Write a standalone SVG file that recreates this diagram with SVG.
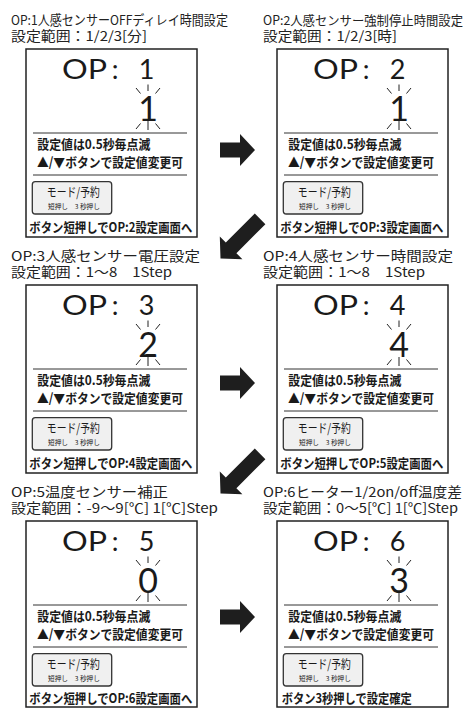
<svg xmlns="http://www.w3.org/2000/svg" width="475" height="711" viewBox="0 0 475 711">
<style>
.title{font-family:"Noto Sans CJK JP",sans-serif;font-size:13.2px;fill:#222}
.big{font-family:Lato,"DejaVu Sans",sans-serif;font-size:27px;fill:#1a1a1a}
.val{font-family:Lato,"DejaVu Sans",sans-serif;font-size:34px;fill:#1a1a1a}
.body{font-family:"Noto Sans CJK JP",sans-serif;font-size:13px;font-weight:bold;fill:#1a1a1a}
.btnlbl{font-family:"Noto Sans CJK JP",sans-serif;font-size:12.5px;fill:#1a1a1a}
.small{font-family:"Noto Sans CJK JP",sans-serif;font-size:6.5px;fill:#1a1a1a}
.frame{fill:#fff;stroke:#222;stroke-width:1.5}
.sep{stroke:#333;stroke-width:1}
.spark{stroke:#222;stroke-width:1;fill:none}
.btn{fill:#f0f0f0;stroke:#333;stroke-width:1.3}
.arrow{fill:#1e1e1e}
</style>
<rect width="475" height="711" fill="#fff"/>

<g id="op1" transform="translate(26,49)">
<text class="title"><tspan x="-15" y="-23.6" textLength="217" lengthAdjust="spacingAndGlyphs">OP:1人感センサーOFFディレイ時間設定</tspan><tspan x="-15" y="-7.6" textLength="136" lengthAdjust="spacingAndGlyphs">設定範囲：1/2/3[分]</tspan></text>
<rect class="frame" x="0" y="0" width="171" height="188"/>
<text class="big" x="36" y="30" textLength="45" lengthAdjust="spacingAndGlyphs">OP</text>
<text class="big" x="89" y="30" text-anchor="middle">:</text>
<text class="big" x="120.5" y="30" text-anchor="middle">1</text>
<text class="val" x="122" y="71.5" text-anchor="middle">1</text>
<path class="spark" d="M110,39 L114.5,44.5 M122,35.5 V42 M134,39 L129.5,44.5 M110,80 L114.5,74.5 M122,72 V81 M134,80 L129.5,74.5"/>
<line class="sep" x1="7" y1="84" x2="161" y2="84"/>
<text class="body" x="11.3" y="100" textLength="113" lengthAdjust="spacingAndGlyphs">設定値は0.5秒毎点滅</text>
<text class="body" x="11" y="118" textLength="146" lengthAdjust="spacingAndGlyphs">▲/▼ボタンで設定値変更可</text>
<line class="sep" x1="7" y1="126" x2="161" y2="126"/>
<rect class="btn" x="6.3" y="132.7" width="79.4" height="32.3" rx="3"/>
<text class="btnlbl" x="47.3" y="148" text-anchor="middle" textLength="53" lengthAdjust="spacingAndGlyphs">モード/予約</text>
<text class="small" x="48" y="159.5" text-anchor="middle" textLength="52" lengthAdjust="spacingAndGlyphs">短押し　3 秒押し</text>
<text class="body" x="3.3" y="182.5" textLength="163" lengthAdjust="spacingAndGlyphs">ボタン短押しでOP:2設定画面へ</text>
</g>

<g id="op2" transform="translate(277,49)">
<text class="title"><tspan x="-14" y="-23.6" textLength="200" lengthAdjust="spacingAndGlyphs" style="font-size:12.7px">OP:2人感センサー強制停止時間設定</tspan><tspan x="-14" y="-7.6" textLength="134" lengthAdjust="spacingAndGlyphs">設定範囲：1/2/3[時]</tspan></text>
<rect class="frame" x="0" y="0" width="171" height="188"/>
<text class="big" x="36" y="30" textLength="45" lengthAdjust="spacingAndGlyphs">OP</text>
<text class="big" x="89" y="30" text-anchor="middle">:</text>
<text class="big" x="120.5" y="30" text-anchor="middle">2</text>
<text class="val" x="122" y="71.5" text-anchor="middle">1</text>
<path class="spark" d="M110,39 L114.5,44.5 M122,35.5 V42 M134,39 L129.5,44.5 M110,80 L114.5,74.5 M122,72 V81 M134,80 L129.5,74.5"/>
<line class="sep" x1="7" y1="84" x2="161" y2="84"/>
<text class="body" x="11.3" y="100" textLength="113" lengthAdjust="spacingAndGlyphs">設定値は0.5秒毎点滅</text>
<text class="body" x="11" y="118" textLength="146" lengthAdjust="spacingAndGlyphs">▲/▼ボタンで設定値変更可</text>
<line class="sep" x1="7" y1="126" x2="161" y2="126"/>
<rect class="btn" x="6.3" y="132.7" width="79.4" height="32.3" rx="3"/>
<text class="btnlbl" x="47.3" y="148" text-anchor="middle" textLength="53" lengthAdjust="spacingAndGlyphs">モード/予約</text>
<text class="small" x="48" y="159.5" text-anchor="middle" textLength="52" lengthAdjust="spacingAndGlyphs">短押し　3 秒押し</text>
<text class="body" x="3.3" y="182.5" textLength="163" lengthAdjust="spacingAndGlyphs">ボタン短押しでOP:3設定画面へ</text>
</g>

<g id="op3" transform="translate(26,285)">
<text class="title"><tspan x="-15" y="-23.6" textLength="189" lengthAdjust="spacingAndGlyphs">OP:3人感センサー電圧設定</tspan><tspan x="-15" y="-7.6" textLength="161" lengthAdjust="spacingAndGlyphs">設定範囲：1〜8　1Step</tspan></text>
<rect class="frame" x="0" y="0" width="171" height="188"/>
<text class="big" x="36" y="30" textLength="45" lengthAdjust="spacingAndGlyphs">OP</text>
<text class="big" x="89" y="30" text-anchor="middle">:</text>
<text class="big" x="120.5" y="30" text-anchor="middle">3</text>
<text class="val" x="122" y="71.5" text-anchor="middle">2</text>
<path class="spark" d="M110,39 L114.5,44.5 M122,35.5 V42 M134,39 L129.5,44.5 M110,80 L114.5,74.5 M122,72 V81 M134,80 L129.5,74.5"/>
<line class="sep" x1="7" y1="84" x2="161" y2="84"/>
<text class="body" x="11.3" y="100" textLength="113" lengthAdjust="spacingAndGlyphs">設定値は0.5秒毎点滅</text>
<text class="body" x="11" y="118" textLength="146" lengthAdjust="spacingAndGlyphs">▲/▼ボタンで設定値変更可</text>
<line class="sep" x1="7" y1="126" x2="161" y2="126"/>
<rect class="btn" x="6.3" y="132.7" width="79.4" height="32.3" rx="3"/>
<text class="btnlbl" x="47.3" y="148" text-anchor="middle" textLength="53" lengthAdjust="spacingAndGlyphs">モード/予約</text>
<text class="small" x="48" y="159.5" text-anchor="middle" textLength="52" lengthAdjust="spacingAndGlyphs">短押し　3 秒押し</text>
<text class="body" x="3.3" y="182.5" textLength="163" lengthAdjust="spacingAndGlyphs">ボタン短押しでOP:4設定画面へ</text>
</g>

<g id="op4" transform="translate(277,285)">
<text class="title"><tspan x="-14" y="-23.6" textLength="190" lengthAdjust="spacingAndGlyphs">OP:4人感センサー時間設定</tspan><tspan x="-14" y="-7.6" textLength="162" lengthAdjust="spacingAndGlyphs">設定範囲：1〜8　1Step</tspan></text>
<rect class="frame" x="0" y="0" width="171" height="188"/>
<text class="big" x="36" y="30" textLength="45" lengthAdjust="spacingAndGlyphs">OP</text>
<text class="big" x="89" y="30" text-anchor="middle">:</text>
<text class="big" x="120.5" y="30" text-anchor="middle">4</text>
<text class="val" x="122" y="71.5" text-anchor="middle">4</text>
<path class="spark" d="M110,39 L114.5,44.5 M122,35.5 V42 M134,39 L129.5,44.5 M110,80 L114.5,74.5 M122,72 V81 M134,80 L129.5,74.5"/>
<line class="sep" x1="7" y1="84" x2="161" y2="84"/>
<text class="body" x="11.3" y="100" textLength="113" lengthAdjust="spacingAndGlyphs">設定値は0.5秒毎点滅</text>
<text class="body" x="11" y="118" textLength="146" lengthAdjust="spacingAndGlyphs">▲/▼ボタンで設定値変更可</text>
<line class="sep" x1="7" y1="126" x2="161" y2="126"/>
<rect class="btn" x="6.3" y="132.7" width="79.4" height="32.3" rx="3"/>
<text class="btnlbl" x="47.3" y="148" text-anchor="middle" textLength="53" lengthAdjust="spacingAndGlyphs">モード/予約</text>
<text class="small" x="48" y="159.5" text-anchor="middle" textLength="52" lengthAdjust="spacingAndGlyphs">短押し　3 秒押し</text>
<text class="body" x="3.3" y="182.5" textLength="163" lengthAdjust="spacingAndGlyphs">ボタン短押しでOP:5設定画面へ</text>
</g>

<g id="op5" transform="translate(26,521)">
<text class="title"><tspan x="-15" y="-23.6" textLength="157" lengthAdjust="spacingAndGlyphs">OP:5温度センサー補正</tspan><tspan x="-15" y="-7.6" textLength="207" lengthAdjust="spacingAndGlyphs">設定範囲：-9〜9[℃] 1[℃]Step</tspan></text>
<rect class="frame" x="0" y="0" width="171" height="186"/>
<text class="big" x="36" y="30" textLength="45" lengthAdjust="spacingAndGlyphs">OP</text>
<text class="big" x="89" y="30" text-anchor="middle">:</text>
<text class="big" x="120.5" y="30" text-anchor="middle">5</text>
<text class="val" x="122" y="71.5" text-anchor="middle">0</text>
<path class="spark" d="M110,39 L114.5,44.5 M122,35.5 V42 M134,39 L129.5,44.5 M110,80 L114.5,74.5 M122,72 V81 M134,80 L129.5,74.5"/>
<line class="sep" x1="7" y1="84" x2="161" y2="84"/>
<text class="body" x="11.3" y="100" textLength="113" lengthAdjust="spacingAndGlyphs">設定値は0.5秒毎点滅</text>
<text class="body" x="11" y="118" textLength="146" lengthAdjust="spacingAndGlyphs">▲/▼ボタンで設定値変更可</text>
<line class="sep" x1="7" y1="126" x2="161" y2="126"/>
<rect class="btn" x="6.3" y="132.7" width="79.4" height="32.3" rx="3"/>
<text class="btnlbl" x="47.3" y="148" text-anchor="middle" textLength="53" lengthAdjust="spacingAndGlyphs">モード/予約</text>
<text class="small" x="48" y="159.5" text-anchor="middle" textLength="52" lengthAdjust="spacingAndGlyphs">短押し　3 秒押し</text>
<text class="body" x="3.3" y="181.5" textLength="163" lengthAdjust="spacingAndGlyphs">ボタン短押しでOP:6設定画面へ</text>
</g>

<g id="op6" transform="translate(277,521)">
<text class="title"><tspan x="-14" y="-23.6" textLength="199" lengthAdjust="spacingAndGlyphs">OP:6ヒーター1/2on/off温度差</tspan><tspan x="-14" y="-7.6" textLength="195" lengthAdjust="spacingAndGlyphs">設定範囲：0〜5[℃] 1[℃]Step</tspan></text>
<rect class="frame" x="0" y="0" width="171" height="186"/>
<text class="big" x="36" y="30" textLength="45" lengthAdjust="spacingAndGlyphs">OP</text>
<text class="big" x="89" y="30" text-anchor="middle">:</text>
<text class="big" x="120.5" y="30" text-anchor="middle">6</text>
<text class="val" x="122" y="71.5" text-anchor="middle">3</text>
<path class="spark" d="M110,39 L114.5,44.5 M122,35.5 V42 M134,39 L129.5,44.5 M110,80 L114.5,74.5 M122,72 V81 M134,80 L129.5,74.5"/>
<line class="sep" x1="7" y1="84" x2="161" y2="84"/>
<text class="body" x="11.3" y="100" textLength="113" lengthAdjust="spacingAndGlyphs">設定値は0.5秒毎点滅</text>
<text class="body" x="11" y="118" textLength="146" lengthAdjust="spacingAndGlyphs">▲/▼ボタンで設定値変更可</text>
<line class="sep" x1="7" y1="126" x2="161" y2="126"/>
<rect class="btn" x="6.3" y="132.7" width="79.4" height="32.3" rx="3"/>
<text class="btnlbl" x="47.3" y="148" text-anchor="middle" textLength="53" lengthAdjust="spacingAndGlyphs">モード/予約</text>
<text class="small" x="48" y="159.5" text-anchor="middle" textLength="52" lengthAdjust="spacingAndGlyphs">短押し　3 秒押し</text>
<text class="body" x="4.7" y="181.5" textLength="130" lengthAdjust="spacingAndGlyphs">ボタン3秒押しで設定確定</text>
</g>

<g id="connectors">
<polygon class="arrow" transform="translate(255,150)" points="0,0 -15,-16 -15,-7.5 -35,-7.5 -35,7.5 -15,7.5 -15,16"/>
<polygon class="arrow" transform="translate(220.5,258.5) rotate(135)" points="0,0 -15,-16 -15,-7.5 -56,-7.5 -56,7.5 -15,7.5 -15,16"/>
<polygon class="arrow" transform="translate(255,383)" points="0,0 -15,-16 -15,-7.5 -35,-7.5 -35,7.5 -15,7.5 -15,16"/>
<polygon class="arrow" transform="translate(220.5,493.5) rotate(135)" points="0,0 -15,-16 -15,-7.5 -56,-7.5 -56,7.5 -15,7.5 -15,16"/>
<polygon class="arrow" transform="translate(255,617)" points="0,0 -15,-16 -15,-7.5 -35,-7.5 -35,7.5 -15,7.5 -15,16"/>
</g>
</svg>
